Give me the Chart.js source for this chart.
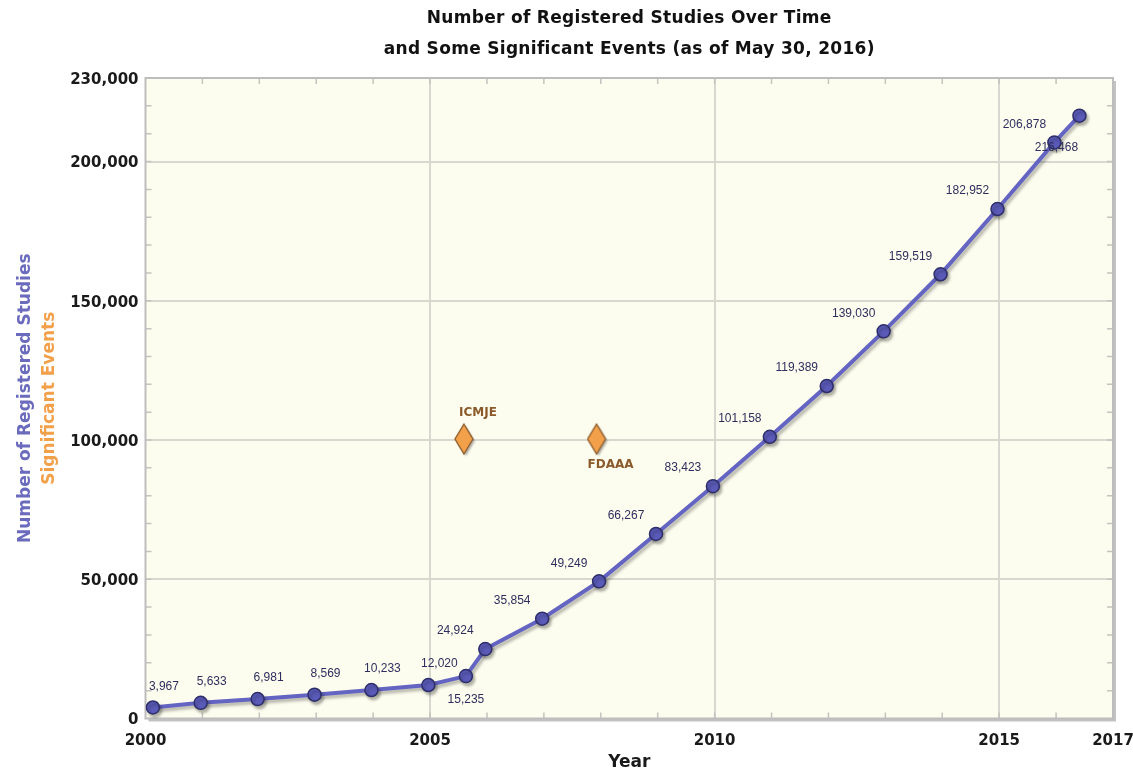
<!DOCTYPE html>
<html>
<head>
<meta charset="utf-8">
<script src="https://cdn.jsdelivr.net/npm/chart.js@4.4.1/dist/chart.umd.min.js"></script>
<style>
  html, body { margin: 0; padding: 0; background: #ffffff; }
  #wrap { width: 1133px; height: 771px; position: relative; }
</style>
</head>
<body>
<div id="wrap"><canvas id="studyChart"></canvas></div>
<script>
// ===============================
// REGISTERED STUDIES OVER TIME
// ===============================

const studyYears = [2000.13, 2000.97, 2001.97, 2002.97, 2003.97, 2004.97, 2005.63, 2005.97, 2006.97, 2007.97,
                    2008.97, 2009.97, 2010.97, 2011.97, 2012.97, 2013.97, 2014.97, 2015.97, 2016.41];
const studyCounts = [3967, 5633, 6981, 8569, 10233, 12020, 15235, 24924, 35854, 49249,
                     66267, 83423, 101158, 119389, 139030, 159519, 182952, 206878, 216468];

const eventNames = ["ICMJE", "FDAAA"];
const eventYears = [2005.63, 2007.96];
const eventLevels = [100000, 100000];

const xTickValues = [2000, 2005, 2010, 2015, 2017];
const yTickValues = [0, 50000, 100000, 150000, 200000, 230000];

const titleLines = ["Number of Registered Studies Over Time", "and Some Significant Events (as of May 30, 2016)"];

const FONT = "'Liberation Sans', Arial, Helvetica, sans-serif";
const BOLD_FONT = "'DejaVu Sans', 'Liberation Sans', sans-serif";

Chart.defaults.font.family = FONT;

// diamond marker for the events
const diamond = document.createElement("canvas");
diamond.width = 24;
diamond.height = 36;
(function () {
    const c = diamond.getContext("2d");
    c.shadowColor = "rgba(0,0,0,0.3)";
    c.shadowOffsetX = 2;
    c.shadowOffsetY = 2;
    c.shadowBlur = 2;
    c.beginPath();
    c.moveTo(10, 2);
    c.lineTo(19, 17);
    c.lineTo(10, 32);
    c.lineTo(1, 17);
    c.closePath();
    c.fillStyle = "#F2A04A";
    c.fill();
    c.shadowColor = "transparent";
    c.lineWidth = 1.3;
    c.strokeStyle = "#8A5A2A";
    c.stroke();
})();

const framePlugin = {
    id: "frame",
    beforeDraw(chart) {
        const { ctx, chartArea: a } = chart;
        ctx.save();
        ctx.fillStyle = "#c2c2c2";
        ctx.fillRect(a.left + 3, a.top + 3, a.right - a.left, a.bottom - a.top);
        ctx.fillStyle = "#FDFDEF";
        ctx.fillRect(a.left, a.top, a.right - a.left, a.bottom - a.top);
        ctx.restore();
    },
    beforeDatasetsDraw(chart) {
        const { ctx, chartArea: a, scales } = chart;
        const x = scales.x, y = scales.y;
        ctx.save();
        ctx.strokeStyle = "#c4c4c0";
        ctx.lineWidth = 1.5;
        ctx.beginPath();
        for (let yr = 2001; yr <= 2016; yr++) {
            const px = x.getPixelForValue(yr);
            ctx.moveTo(px, a.bottom); ctx.lineTo(px, a.bottom - 6);
            ctx.moveTo(px, a.top); ctx.lineTo(px, a.top + 6);
        }
        for (let v = 10000; v <= 220000; v += 10000) {
            const py = y.getPixelForValue(v);
            ctx.moveTo(a.left, py); ctx.lineTo(a.left + 6, py);
            ctx.moveTo(a.right, py); ctx.lineTo(a.right - 6, py);
        }
        ctx.stroke();
        ctx.strokeStyle = "#bdbdbd";
        ctx.lineWidth = 2;
        ctx.strokeRect(a.left, a.top, a.right - a.left, a.bottom - a.top);
        ctx.restore();
    },
    beforeDatasetDraw(chart, args) {
        const ctx = chart.ctx;
        ctx.save();
        if (args.index === 0) {
            ctx.shadowColor = "rgba(0,0,0,0.28)";
            ctx.shadowOffsetX = 2;
            ctx.shadowOffsetY = 3;
            ctx.shadowBlur = 3;
        }
    },
    afterDatasetDraw(chart) {
        chart.ctx.restore();
    },
    afterDraw(chart) {
        const { ctx, chartArea: a } = chart;
        const cx = (a.left + a.right) / 2;
        ctx.save();

        // title, centred over the plot area
        ctx.fillStyle = "#111111";
        ctx.textAlign = "center";
        ctx.textBaseline = "middle";
        ctx.font = "bold 17px " + BOLD_FONT;
        ctx.letterSpacing = "0.3px";
        ctx.fillText(titleLines[0], cx, 19);
        ctx.fillText(titleLines[1], cx, 50);
        ctx.letterSpacing = "0px";

        // two coloured y axis titles
        const cy = (a.top + a.bottom) / 2;
        ctx.font = "bold 17px " + BOLD_FONT;
        ctx.translate(26, cy);
        ctx.rotate(-Math.PI / 2);
        ctx.fillStyle = "#6B6BBE";
        ctx.fillText("Number of Registered Studies", 0, 0);
        ctx.fillStyle = "#F2A04A";
        ctx.fillText("Significant Events", 0, 24);
        ctx.restore();

        // value labels on the study line
        const meta = chart.getDatasetMeta(0);
        ctx.save();
        ctx.font = "12px " + FONT;
        ctx.fillStyle = "#2E2E5E";
        ctx.textAlign = "center";
        ctx.textBaseline = "middle";
        const last = studyCounts.length - 1;
        meta.data.forEach((pt, i) => {
            let dx = -30, dy = -18;
            if (i < 6) { dx = 11; dy = -21; }
            if (i === 6) { dx = 0; dy = 24; }
            if (i === last) { dx = -23; dy = 32; }
            ctx.fillText(studyCounts[i].toLocaleString("en-US"), pt.x + dx, pt.y + dy);
        });

        // event labels
        const ev = chart.getDatasetMeta(1);
        ctx.font = "bold 12px " + BOLD_FONT;
        ctx.fillStyle = "#8A5A2A";
        ev.data.forEach((pt, i) => {
            const dy = i === 0 ? -27 : 25;
            ctx.fillText(eventNames[i], pt.x + 12, pt.y + dy);
        });
        ctx.restore();
    }
};

new Chart(document.getElementById("studyChart"), {
    type: "scatter",
    data: {
        datasets: [{
            label: "Registered Studies",
            data: studyYears.map((yr, i) => ({ x: yr, y: studyCounts[i] })),
            showLine: true,
            borderColor: "#6464C2",
            borderWidth: 4,
            pointRadius: 6.5,
            pointBackgroundColor: "#5A5AB8",
            pointBorderColor: "#2E2E6A",
            pointBorderWidth: 1.5,
            order: 1
        }, {
            label: "Significant Events",
            data: eventYears.map((yr, i) => ({ x: yr, y: eventLevels[i] })),
            pointStyle: diamond,
            pointRadius: 12,
            order: 2
        }]
    },
    options: {
        responsive: true,
        maintainAspectRatio: false,
        animation: false,
        events: [],
        layout: {
            padding: { top: 78, right: 20, left: 0, bottom: 0 }
        },
        plugins: {
            legend: { display: false },
            tooltip: { enabled: false },
            title: { display: false }
        },
        scales: {
            x: {
                type: "linear",
                min: 2000,
                max: 2017,
                afterBuildTicks: (s) => { s.ticks = xTickValues.map(v => ({ value: v })); },
                afterFit: (s) => { s.height = 52.5; s.paddingLeft = 0; s.paddingRight = 0; },
                border: { display: false },
                grid: {
                    drawTicks: false,
                    lineWidth: 2,
                    color: (c) => (c.tick && c.tick.value > 2000 && c.tick.value < 2017) ? "#D8D8D0" : "transparent"
                },
                ticks: {
                    autoSkip: false,
                    maxRotation: 0,
                    padding: 14,
                    color: "#1a1a1a",
                    font: { family: BOLD_FONT, size: 15, weight: "bold" },
                    callback: (v) => String(v)
                },
                title: {
                    display: true,
                    text: "Year",
                    color: "#1a1a1a",
                    font: { family: BOLD_FONT, size: 17, weight: "bold" },
                    padding: { top: 0, bottom: -2 }
                }
            },
            y: {
                min: 0,
                max: 230000,
                afterBuildTicks: (s) => { s.ticks = yTickValues.map(v => ({ value: v })); },
                afterFit: (s) => { s.width = 145.5; s.paddingTop = 0; s.paddingBottom = 0; },
                border: { display: false },
                grid: {
                    drawTicks: false,
                    lineWidth: 2,
                    color: (c) => (c.tick && c.tick.value > 0 && c.tick.value < 230000) ? "#D8D8D0" : "transparent"
                },
                ticks: {
                    padding: 7,
                    labelOffset: 2,
                    color: "#1a1a1a",
                    font: { family: BOLD_FONT, size: 15, weight: "bold" },
                    callback: (v) => Number(v).toLocaleString("en-US")
                }
            }
        }
    },
    plugins: [framePlugin]
});
</script>
</body>
</html>
